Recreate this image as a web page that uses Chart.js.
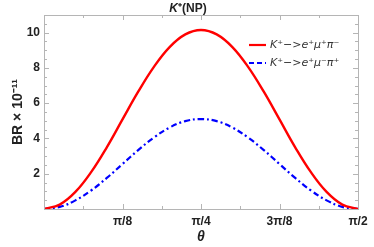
<!DOCTYPE html>
<html>
<head>
<meta charset="utf-8">
<script src="https://cdn.jsdelivr.net/npm/chart.js@4.4.0/dist/chart.umd.min.js"></script>
<style>
  html, body { margin: 0; padding: 0; background: #fff; }
  #wrap { width: 374px; height: 247px; }
</style>
</head>
<body>
<div id="wrap"><canvas id="brChart"></canvas></div>
<script>
// theta in degrees (0 .. 90 = pi/2)
var theta = [0, 4.5, 9, 13.5, 18, 22.5, 27, 31.5, 36, 40.5, 45, 49.5, 54, 58.5, 63, 67.5, 72, 76.5, 81, 85.5, 90];
// BR x 10^-11
var brPlusPlus = [0, 0.25, 0.97, 2.09, 3.50, 5.08, 6.65, 8.06, 9.18, 9.90, 10.15, 9.90, 9.18, 8.06, 6.65, 5.08, 3.50, 2.09, 0.97, 0.25, 0];
var brMinusPlus = [0, 0.12, 0.49, 1.05, 1.76, 2.55, 3.34, 4.05, 4.62, 4.98, 5.10, 4.98, 4.62, 4.05, 3.34, 2.55, 1.76, 1.05, 0.49, 0.12, 0];
var xTicks = [22.5, 45, 67.5, 90];
var xTickLabels = ['π/8', 'π/4', '3π/8', 'π/2'];
var yTicks = [2, 4, 6, 8, 10];
var seriesNames = ['K⁺−>e⁺μ⁺π⁻', 'K⁺−>e⁺μ⁻π⁺'];

function points(ys) {
    return theta.map((t, i) => ({x: t, y: ys[i]}));
}

// frame, inside ticks, title and legend like the Mathematica plot
const framePlugin = {
    id: 'frame',
    afterDraw(chart) {
        const ctx = chart.ctx, a = chart.chartArea;
        const xs = chart.scales.x, ys = chart.scales.y;
        ctx.save();
        ctx.strokeStyle = '#b5b5b5';
        ctx.lineWidth = 1;
        ctx.strokeRect(a.left + 0.5, a.top + 0.5, a.right - a.left, a.bottom - a.top);
        ctx.beginPath();
        for (let v = 0.5; v < 11; v += 0.5) {
            const p = Math.round(ys.getPixelForValue(v)) + 0.5;
            const len = (v % 2 === 0) ? 5 : 3;
            ctx.moveTo(a.left, p); ctx.lineTo(a.left + len, p);
            ctx.moveTo(a.right, p); ctx.lineTo(a.right - len, p);
        }
        for (let v = 11.25; v < 90; v += 11.25) {
            const p = Math.round(xs.getPixelForValue(v)) + 0.5;
            const len = (v % 22.5 === 0) ? 5 : 3;
            ctx.moveTo(p, a.bottom); ctx.lineTo(p, a.bottom - len);
            ctx.moveTo(p, a.top); ctx.lineTo(p, a.top + len);
        }
        ctx.stroke();

        // title
        ctx.fillStyle = '#222';
        ctx.textBaseline = 'alphabetic';
        ctx.font = 'italic bold 12px "Liberation Sans", Arial, sans-serif';
        const kW = ctx.measureText('K').width;
        ctx.font = 'bold 12px "Liberation Sans", Arial, sans-serif';
        const restW = ctx.measureText('⁺(NP)').width;
        let tx = 188 - (kW + restW) / 2;
        ctx.font = 'italic bold 12px "Liberation Sans", Arial, sans-serif';
        ctx.fillText('K', tx, 12);
        ctx.font = 'bold 12px "Liberation Sans", Arial, sans-serif';
        ctx.fillText('⁺(NP)', tx + kW, 12);

        // legend
        const colors = ['#ff0000', '#0000ff'];
        const dashes = [[], [5, 3]];
        const rows = [45, 63];
        ctx.font = 'italic 11px "DejaVu Sans", sans-serif';
        ctx.textBaseline = 'middle';
        for (let i = 0; i < 2; i++) {
            ctx.beginPath();
            ctx.setLineDash(dashes[i]);
            ctx.strokeStyle = colors[i];
            ctx.lineWidth = 2.2;
            ctx.moveTo(249, rows[i]); ctx.lineTo(266, rows[i]);
            ctx.stroke();
            ctx.setLineDash([]);
            ctx.fillStyle = '#333';
            ctx.fillText(seriesNames[i], 270, rows[i]);
        }
        ctx.restore();
    }
};

const data = {
    datasets: [{
        label: seriesNames[0],
        data: points(brPlusPlus),
        borderColor: '#ff0000',
        borderWidth: 2.4,
        pointRadius: 0,
        tension: 0.4
    }, {
        label: seriesNames[1],
        data: points(brMinusPlus),
        borderColor: '#0000ff',
        borderWidth: 2.2,
        borderDash: [6, 3, 2, 3],
        pointRadius: 0,
        tension: 0.4
    }]
};

const options = {
    responsive: false,
    animation: false,
    layout: { padding: { top: 15, right: 16, left: 0, bottom: 0 } },
    plugins: { legend: { display: false }, title: { display: false }, tooltip: { enabled: false } },
    scales: {
        x: {
            type: 'linear', min: 0, max: 90,
            grid: { display: false, drawTicks: false },
            border: { display: false },
            afterBuildTicks: s => { s.ticks = xTicks.map(v => ({value: v})); },
            afterFit: s => { s.height = 38; },
            ticks: {
                autoSkip: false, maxRotation: 0, padding: 5,
                color: '#222',
                font: { family: '"Liberation Sans", Arial, sans-serif', size: 12, weight: 'bold' },
                callback: (v) => xTickLabels[xTicks.indexOf(v)]
            },
            title: {
                display: true, text: 'θ', color: '#222', padding: { top: 0, bottom: 1 },
                font: { family: '"Liberation Sans", Arial, sans-serif', size: 14, weight: 'bold', style: 'italic' }
            }
        },
        y: {
            min: 0, max: 11,
            grid: { display: false, drawTicks: false },
            border: { display: false },
            afterBuildTicks: s => { s.ticks = yTicks.map(v => ({value: v})); },
            afterFit: s => { s.width = 44; },
            ticks: {
                padding: 4, color: '#222',
                font: { family: '"Liberation Sans", Arial, sans-serif', size: 12, weight: 'bold' }
            },
            title: {
                display: true, text: 'BR × 10⁻¹¹', color: '#222', padding: { top: 10, bottom: 0 },
                font: { family: '"Liberation Sans", Arial, sans-serif', size: 14, weight: 'bold' }
            }
        }
    }
};

const canvas = document.getElementById('brChart');
canvas.width = 374; canvas.height = 247;
new Chart(canvas, { type: 'line', data, options, plugins: [framePlugin] });
</script>
</body>
</html>
